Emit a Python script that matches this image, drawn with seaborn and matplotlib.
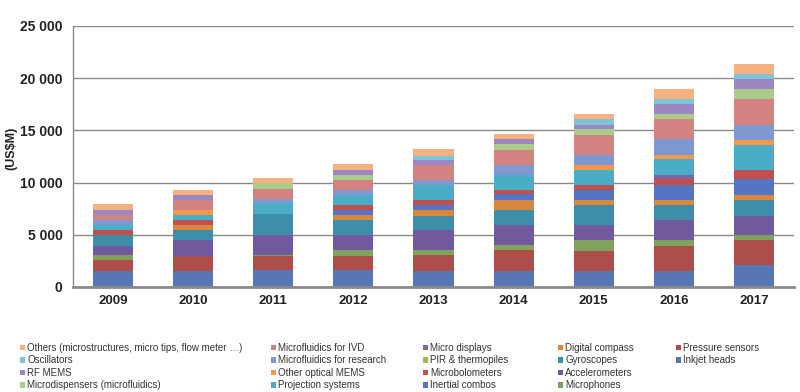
import numpy as np
import pandas as pd
import matplotlib
matplotlib.use("Agg")
import matplotlib.pyplot as plt
import seaborn as sns
from matplotlib.patches import Patch

# ---------------- data (US$M), bottom of stack first ----------------
years = ["2009", "2010", "2011", "2012", "2013", "2014", "2015", "2016", "2017"]

inkjet_heads        = [1530, 1530, 1600, 1600, 1530, 1530, 1500, 1500, 2080]
pressure_sensors    = [1030, 1410, 1340, 1340, 1510, 1990, 1920, 2430, 2390]
microphones         = [480,    0,  150,  580,  480,  470, 1050,  540,  480]
accelerometers      = [860, 1530, 1920, 1430, 1910, 1920, 1440, 1920, 1820]
gyroscopes          = [1050, 960, 2010, 1440, 1340, 1500, 1920, 1440, 1530]
digital_compass     = [0,    480,    0,  480,  640,  890,  470,  470,  480]
inertial_combos     = [0,      0,    0,  480,  480,  580,  960, 1510, 1540]
microbolometers     = [480,  480,    0,  480,  410,  450,  550,  510,  860]
pir_thermopiles     = [0,      0,    0,    0,    0,    0,    0,    0,    0]
micro_displays      = [0,      0,    0,    0,    0,    0,    0,  380,    0]
projection_systems  = [480,  540, 1020,  950, 1510, 1370, 1370, 1530, 2460]
other_optical_mems  = [0,    480,    0,    0,    0,    0,  540,  450,  410]
microfluidics_res   = [480,    0,  410,  480,  410, 1020,  890, 1470, 1510]
microfluidics_ivd   = [480,  890,  960, 1030, 1500, 1440, 1920, 1980, 2490]
microdispensers     = [0,      0,  550,  480,    0,  570,  570,  480,  950]
rf_mems             = [480,  480,    0,  470,  480,  420,  450,  960,  960]
oscillators         = [0,      0,    0,    0,  320,    0,  510,  480,  480]
others              = [570,  550,  480,  510,  670,  480,  480,  950,  960]

series_names = [
    "Inkjet heads", "Pressure sensors", "Microphones", "Accelerometers",
    "Gyroscopes", "Digital compass", "Inertial combos", "Microbolometers",
    "PIR & thermopiles", "Micro displays", "Projection systems",
    "Other optical MEMS", "Microfluidics for research", "Microfluidics for IVD",
    "Microdispensers (microfluidics)", "RF MEMS", "Oscillators",
    "Others (microstructures, micro tips, flow meter \u2026)",
]
series_values = [
    inkjet_heads, pressure_sensors, microphones, accelerometers, gyroscopes,
    digital_compass, inertial_combos, microbolometers, pir_thermopiles,
    micro_displays, projection_systems, other_optical_mems, microfluidics_res,
    microfluidics_ivd, microdispensers, rf_mems, oscillators, others,
]

# ---------------- styles ----------------
colors = [
    "#5676B4", "#AE4E48", "#7FA35C", "#72589C", "#3F8EA7", "#D9873F",
    "#5674C4", "#C0504D", "#9BBB59", "#8064A2", "#4BACC6", "#F39A4A",
    "#8098D0", "#D38281", "#A9CC8A", "#9D87C1", "#7EC3D8", "#F5B181",
]

sns.set_theme(style="white")
plt.rcParams["font.family"] = ["Liberation Sans", "DejaVu Sans"]

fig = plt.figure(figsize=(8, 3.92), dpi=100)
ax = fig.add_axes([73 / 800, 1 - 287 / 392, 721 / 800, 261 / 392])

cum = np.cumsum(np.array(series_values, dtype=float), axis=0)
for i in range(len(series_names) - 1, -1, -1):
    df = pd.DataFrame({"year": years, "value": cum[i]})
    sns.barplot(data=df, x="year", y="value", color=colors[i], width=0.5,
                saturation=1, errorbar=None, linewidth=0, ax=ax)

ax.set_xlim(-0.5, 8.5)
ax.set_ylim(0, 25000)
ax.set_yticks(range(0, 25001, 5000))
ax.set_yticklabels([f"{v:,}".replace(",", " ") for v in range(0, 25001, 5000)],
                   fontsize=10, fontweight="bold", color="#222222")
ax.set_xticks(range(len(years)))
ax.set_xticklabels(years, fontsize=9.5, fontweight="bold", color="#222222")
ax.set_xlabel("")
ax.set_ylabel("")
ax.tick_params(axis="y", length=0, pad=7.5)
ax.tick_params(axis="x", length=0, pad=6)
ax.yaxis.grid(True, color="#8a8a8a", linewidth=1)
ax.set_axisbelow(True)
for s in ["top", "right"]:
    ax.spines[s].set_visible(False)
ax.spines["left"].set_color("#8a8a8a")
ax.spines["left"].set_linewidth(1)
ax.spines["bottom"].set_color("#8a8a8a")
ax.spines["bottom"].set_linewidth(2)

fig.text(11 / 800, 1 - 148 / 392, "(US$M)", rotation=90, ha="center",
         va="center", fontsize=9, fontweight="bold", color="#222222")

# ---------------- legend: 5 columns, top series first ----------------
order = list(range(len(series_names) - 1, -1, -1))
columns = [order[0:4], order[4:8], order[8:12], order[12:16], order[16:18]]
col_x = [20, 271, 423, 558, 676]
for xs, idxs in zip(col_x, columns):
    handles = [Patch(facecolor=colors[i], edgecolor="none") for i in idxs]
    labels = [series_names[i] for i in idxs]
    fig.legend(handles, labels, loc="upper left",
               bbox_to_anchor=(xs / 800, 1 - 343 / 392), frameon=False,
               fontsize=7.0, handlelength=0.5, handleheight=0.5,
               handletextpad=0.25, labelspacing=0.25, borderpad=0,
               borderaxespad=0, labelcolor="#333333")

fig.savefig("out.png", dpi=100)
